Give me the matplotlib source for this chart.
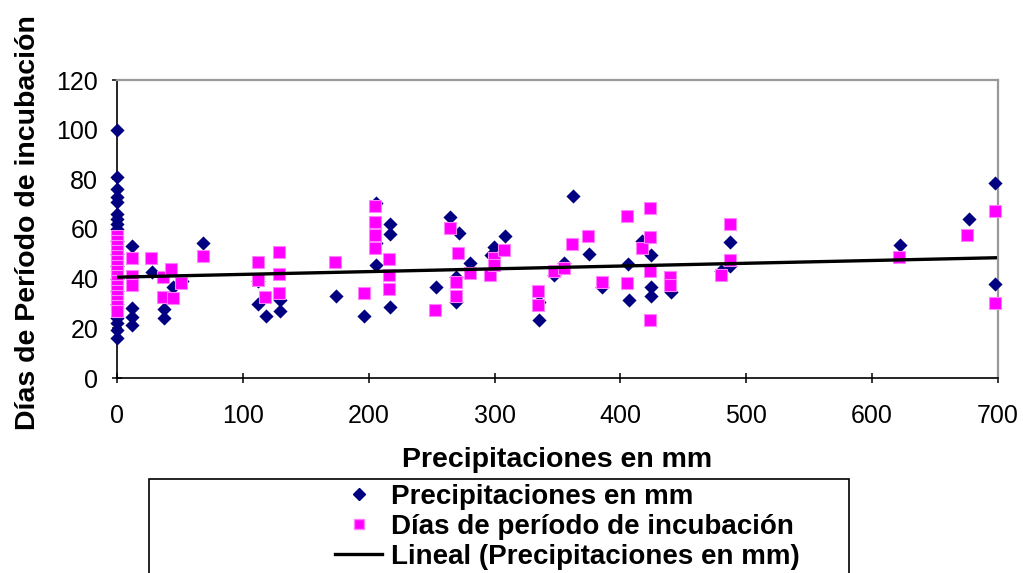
import numpy as np
import matplotlib
matplotlib.use("Agg")
import matplotlib.pyplot as plt
from matplotlib.patches import Rectangle
from matplotlib.lines import Line2D

plt.rcParams['font.family'] = ['Liberation Sans', 'DejaVu Sans']

# Serie 1: precipitaciones (rombos azules)
prec_x = [0, 0, 0, 0, 0, 0, 0, 0, 0, 0, 0, 0, 0, 0, 0, 0, 0, 0, 0,
          12, 12, 12, 12, 27.6, 37.4, 37.4, 44.6, 51.4, 68.7,
          112, 112, 118.5, 129.3, 129.3, 174.2, 196.5,
          205.8, 205.8, 205.8, 217.2, 217.2, 217.2,
          253.8, 264.9, 271.5, 269.7, 269.7, 280.8, 297, 299.4, 307.9,
          335.2, 335.2, 347, 355, 362.2, 375, 385.6, 406, 406.8,
          417.4, 424.5, 424.5, 424.5, 440, 480, 487.3, 487.3,
          622.3, 677.2, 697.9, 697.9]
prec_y = [100, 81, 76, 73, 71, 66, 64, 62, 60, 55, 50, 45, 40, 35, 30, 24, 22, 19.5, 16,
          53, 28, 24.7, 21.3, 42.5, 27.8, 24.2, 36.8, 39.2, 54.2,
          39, 30, 25, 31.4, 27.1, 33.1, 25.1,
          70.3, 54.2, 45.5, 61.9, 58, 28.7,
          36.5, 65, 58.3, 40.5, 30.7, 46.4, 49.5, 52.6, 57.3,
          23.4, 30.7, 41.5, 46.2, 73.4, 49.9, 36.5, 46, 31.4,
          55.3, 49.5, 36.8, 33, 34.8, 43, 54.9, 45.1,
          53.6, 63.9, 78.4, 37.9]

# Serie 2: dias de periodo de incubacion (cuadrados magenta)
incub_x = [0, 0, 0, 0, 0, 0, 0, 0, 0, 0, 0, 0, 0, 0, 0, 0,
           12, 12, 12, 27, 36.8, 36.8, 43, 44.6, 51, 68,
           112.4, 112.4, 117.7, 129.1, 129.1, 129.1, 173.4, 196,
           205.2, 205.2, 205.2, 205.2, 215.8, 215.8, 215.8,
           253, 264.4, 270.7, 269, 269, 280.3, 296.7, 299.4, 299.4, 307.3,
           334.4, 334.4, 347, 355, 361.2, 374.1, 385.6, 405.5, 405.5,
           417.4, 423.5, 423.5, 423.5, 423.5, 439.4, 439.4, 480, 487.3, 487.3,
           621.3, 675, 697.9, 697.9]
incub_y = [57, 55, 53, 51, 49, 47, 45, 43, 41, 39, 37, 35, 33, 31, 29, 27,
           48.3, 41, 37.5, 48.3, 40.8, 32.7, 43.9, 32.2, 38.3, 49.1,
           46.8, 39.5, 32.7, 50.9, 41.8, 34.4, 46.8, 34.4,
           69.3, 63, 57.6, 52.2, 47.8, 41.5, 35.7,
           27.2, 60.3, 50.2, 38.8, 33, 42.4, 41.5, 48.2, 45.5, 51.5,
           35.2, 29.4, 43.2, 44.2, 53.8, 57, 38.8, 65.4, 38.4,
           52.2, 68.3, 56.9, 43.2, 23.4, 40.5, 37.4, 41.5, 61.9, 47.5,
           48.8, 57.6, 67.4, 30.3]

# tendencia lineal (Excel): y = a + b*x
trend_a = 40.6
trend_b = 0.0112

fig = plt.figure(figsize=(10.23, 5.73), dpi=100)
ax = fig.add_axes([117 / 1023, 1 - 378 / 573, 881 / 1023, 298 / 573])

ax.scatter(prec_x, prec_y, marker='D', s=52, color='#000080', linewidths=0,
           clip_on=False, zorder=3)
ax.scatter(incub_x, incub_y, marker='s', s=76, facecolor='#ff00ff',
           edgecolor='#ff80ff', linewidths=0.8, clip_on=False, zorder=3)

xt = np.array([min(prec_x), max(prec_x)])
ax.plot(xt, trend_a + trend_b * xt, color='black', lw=2.4, zorder=4)

ax.set_xlim(0, 700)
ax.set_ylim(0, 120)
ax.set_xticks(np.arange(0, 701, 100))
ax.set_yticks(np.arange(0, 121, 20))

for s in ['left', 'bottom']:
    ax.spines[s].set_color('black')
    ax.spines[s].set_linewidth(1.2)
for s in ['top', 'right']:
    ax.spines[s].set_color('#999999')
    ax.spines[s].set_linewidth(1.6)

ax.tick_params(axis='both', direction='inout', length=7, width=1.1, labelsize=18)
ax.tick_params(axis='x', pad=15)
ax.tick_params(axis='y', pad=10)

ax.set_xlabel('Precipitaciones en mm', fontsize=20.5, fontweight='bold')
ax.set_ylabel('Días de Período de incubación', fontsize=20.5, fontweight='bold')
ax.xaxis.set_label_coords(0.5, -0.275)
ax.xaxis.label.set_va('center')
ax.yaxis.set_label_coords(-0.101, 0.523)
ax.yaxis.label.set_va('center')

# cuadro de leyenda
fig.patches.append(Rectangle((149 / 1023, -0.05), 700 / 1023, 0.05 + 1 - 479 / 573,
                             transform=fig.transFigure, fill=False,
                             edgecolor='black', linewidth=1.2))

handles = [
    Line2D([], [], ls='none', marker='D', ms=6, color='#000080'),
    Line2D([], [], ls='none', marker='s', ms=7, markerfacecolor='#ff00ff',
           markeredgecolor='#ff80ff'),
    Line2D([], [], color='black', lw=2.4),
]
labels = ['Precipitaciones en mm', 'Días de período de incubación',
          'Lineal (Precipitaciones en mm)']
leg = fig.legend(handles, labels, loc='upper left',
                 bbox_to_anchor=(335 / 1023, 1 - 484 / 573),
                 frameon=False, borderpad=0, borderaxespad=0,
                 handlelength=1.7, handletextpad=0.32, labelspacing=0.14,
                 prop={'size': 20, 'weight': 'bold'})

fig.savefig('out.png', dpi=100)
